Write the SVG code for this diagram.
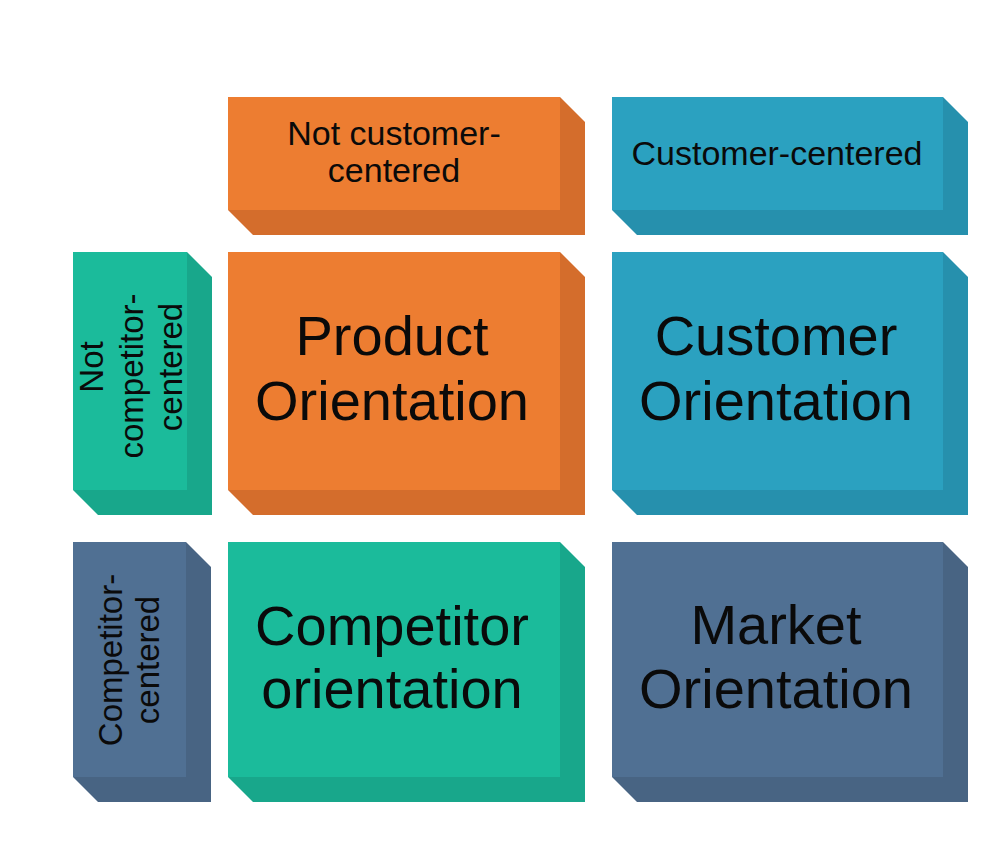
<svg xmlns="http://www.w3.org/2000/svg" width="994" height="860" viewBox="0 0 994 860">
  <style>
    text { font-family: "Liberation Sans", Arial, sans-serif; fill: #0a0a0a; text-anchor: middle; }
    .sm { font-size: 34px; }
    .vt { font-size: 33px; }
    .lg { font-size: 56px; }
    .orange .side { fill: #D46D2C; }
    .orange .front { fill: #ED7D31; }
    .blue .side { fill: #2690AD; }
    .blue .front { fill: #2BA1C0; }
    .green .side { fill: #18A78B; }
    .green .front { fill: #1BBB9B; }
    .slate .side { fill: #486483; }
    .slate .front { fill: #507093; }
  </style>
  <rect width="994" height="860" fill="#ffffff"/>

  <!-- column header: not customer-centered -->
  <g id="hdr-not-customer" class="orange">
    <polygon class="side" points="228,97 560,97 585,122 585,235 253,235 228,210"/>
    <rect class="front" x="228" y="97" width="332" height="113"/>
    <text class="sm" x="394" y="145">Not customer-</text>
    <text class="sm" x="394" y="182">centered</text>
  </g>

  <!-- column header: customer-centered -->
  <g id="hdr-customer" class="blue">
    <polygon class="side" points="612,97 943,97 968,122 968,235 637,235 612,210"/>
    <rect class="front" x="612" y="97" width="331" height="113"/>
    <text class="sm" x="777" y="165">Customer-centered</text>
  </g>

  <!-- row header: not competitor-centered -->
  <g id="hdr-not-competitor" class="green">
    <polygon class="side" points="73,252 187,252 212,277 212,515 98,515 73,490"/>
    <rect class="front" x="73" y="252" width="114" height="238"/>
    <text class="vt" transform="translate(103,367) rotate(-90)">Not</text>
    <text class="vt" transform="translate(143,376) rotate(-90)">competitor-</text>
    <text class="vt" transform="translate(182,367) rotate(-90)">centered</text>
  </g>

  <!-- row header: competitor-centered -->
  <g id="hdr-competitor" class="slate">
    <polygon class="side" points="73,542 186,542 211,567 211,802 98,802 73,777"/>
    <rect class="front" x="73" y="542" width="113" height="235"/>
    <text class="vt" transform="translate(122,660) rotate(-90)">Competitor-</text>
    <text class="vt" transform="translate(159,660) rotate(-90)">centered</text>
  </g>

  <!-- quadrant: product orientation -->
  <g id="product-orientation" class="orange">
    <polygon class="side" points="228,252 560,252 585,277 585,515 253,515 228,490"/>
    <rect class="front" x="228" y="252" width="332" height="238"/>
    <text class="lg" x="392" y="355">Product</text>
    <text class="lg" x="392" y="420">Orientation</text>
  </g>

  <!-- quadrant: customer orientation -->
  <g id="customer-orientation" class="blue">
    <polygon class="side" points="612,252 943,252 968,277 968,515 637,515 612,490"/>
    <rect class="front" x="612" y="252" width="331" height="238"/>
    <text class="lg" x="776" y="355">Customer</text>
    <text class="lg" x="776" y="420">Orientation</text>
  </g>

  <!-- quadrant: competitor orientation -->
  <g id="competitor-orientation" class="green">
    <polygon class="side" points="228,542 560,542 585,567 585,802 253,802 228,777"/>
    <rect class="front" x="228" y="542" width="332" height="235"/>
    <text class="lg" x="392" y="645">Competitor</text>
    <text class="lg" x="392" y="708">orientation</text>
  </g>

  <!-- quadrant: market orientation -->
  <g id="market-orientation" class="slate">
    <polygon class="side" points="612,542 943,542 968,567 968,802 637,802 612,777"/>
    <rect class="front" x="612" y="542" width="331" height="235"/>
    <text class="lg" x="776" y="644">Market</text>
    <text class="lg" x="776" y="708">Orientation</text>
  </g>

  <g id="connectors"/>
</svg>
